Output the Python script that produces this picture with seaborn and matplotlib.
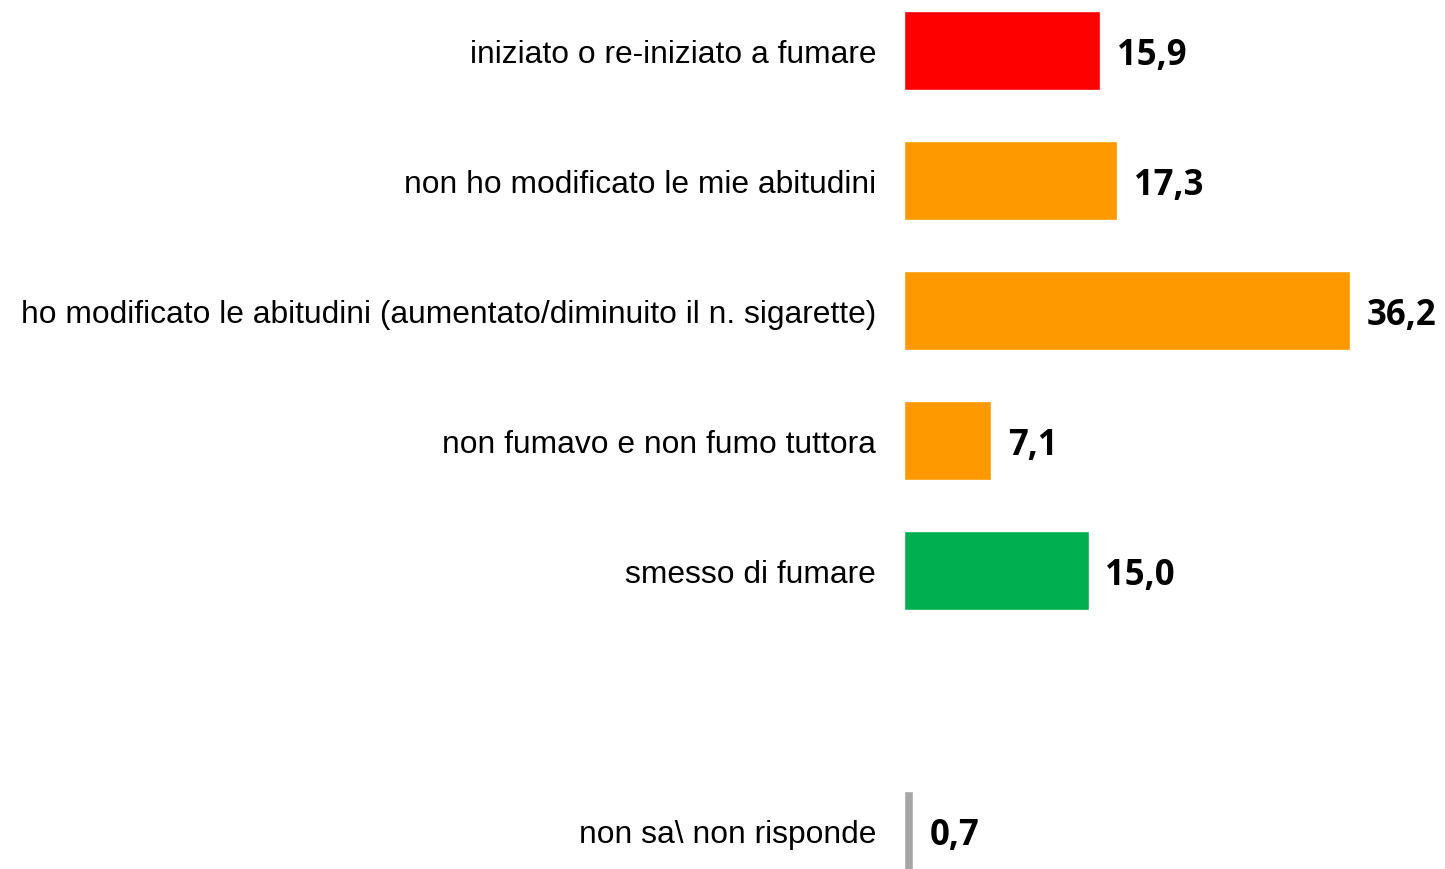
import matplotlib
matplotlib.use("Agg")
import matplotlib.pyplot as plt
import seaborn as sns
import pandas as pd

# dati
categorie = [
    "iniziato o re-iniziato a fumare",
    "non ho modificato le mie abitudini",
    "ho modificato le abitudini (aumentato/diminuito il n. sigarette)",
    "non fumavo e non fumo tuttora",
    "smesso di fumare",
    "",
    "non sa\\ non risponde",
]
valori = [15.9, 17.3, 36.2, 7.1, 15.0, 0.0, 0.7]
colori = ["#FF0000", "#FF9900", "#FF9900", "#FF9900", "#00B050", "#FFFFFF", "#A6A6A6"]

df = pd.DataFrame({"cat": categorie, "val": valori})

sns.set_style("white")
plt.rcParams["font.family"] = ["Liberation Sans", "DejaVu Sans"]

fig = plt.figure(figsize=(14.45, 8.7), dpi=100)
ax = fig.add_axes([904 / 1445, 0, 541 / 1445, 1])

sns.barplot(data=df, x="val", y="cat", hue="cat", palette=colori, legend=False,
            width=0.615, saturation=1, ax=ax, orient="h")

ax.set_xlim(0, 541 / 12.32)
ax.set_ylim(6.296, -0.396)
ax.set_xlabel("")
ax.set_ylabel("")
ax.set_xticks([])
ax.tick_params(axis="y", length=0, pad=20, labelsize=22.9, labelcolor="black")
for lbl in ax.get_yticklabels():
    lbl.set_y(lbl.get_position()[1])
for s in ax.spines.values():
    s.set_visible(False)

for i, v in enumerate(valori):
    if categorie[i] == "":
        continue
    ax.annotate(f"{v:.1f}".replace(".", ","), xy=(v, i), xytext=(12, -3.5),
                textcoords="offset points", va="center", ha="left",
                fontsize=25, fontweight="bold", family="Open Sans", color="black")

fig.savefig("out.png", dpi=100)
